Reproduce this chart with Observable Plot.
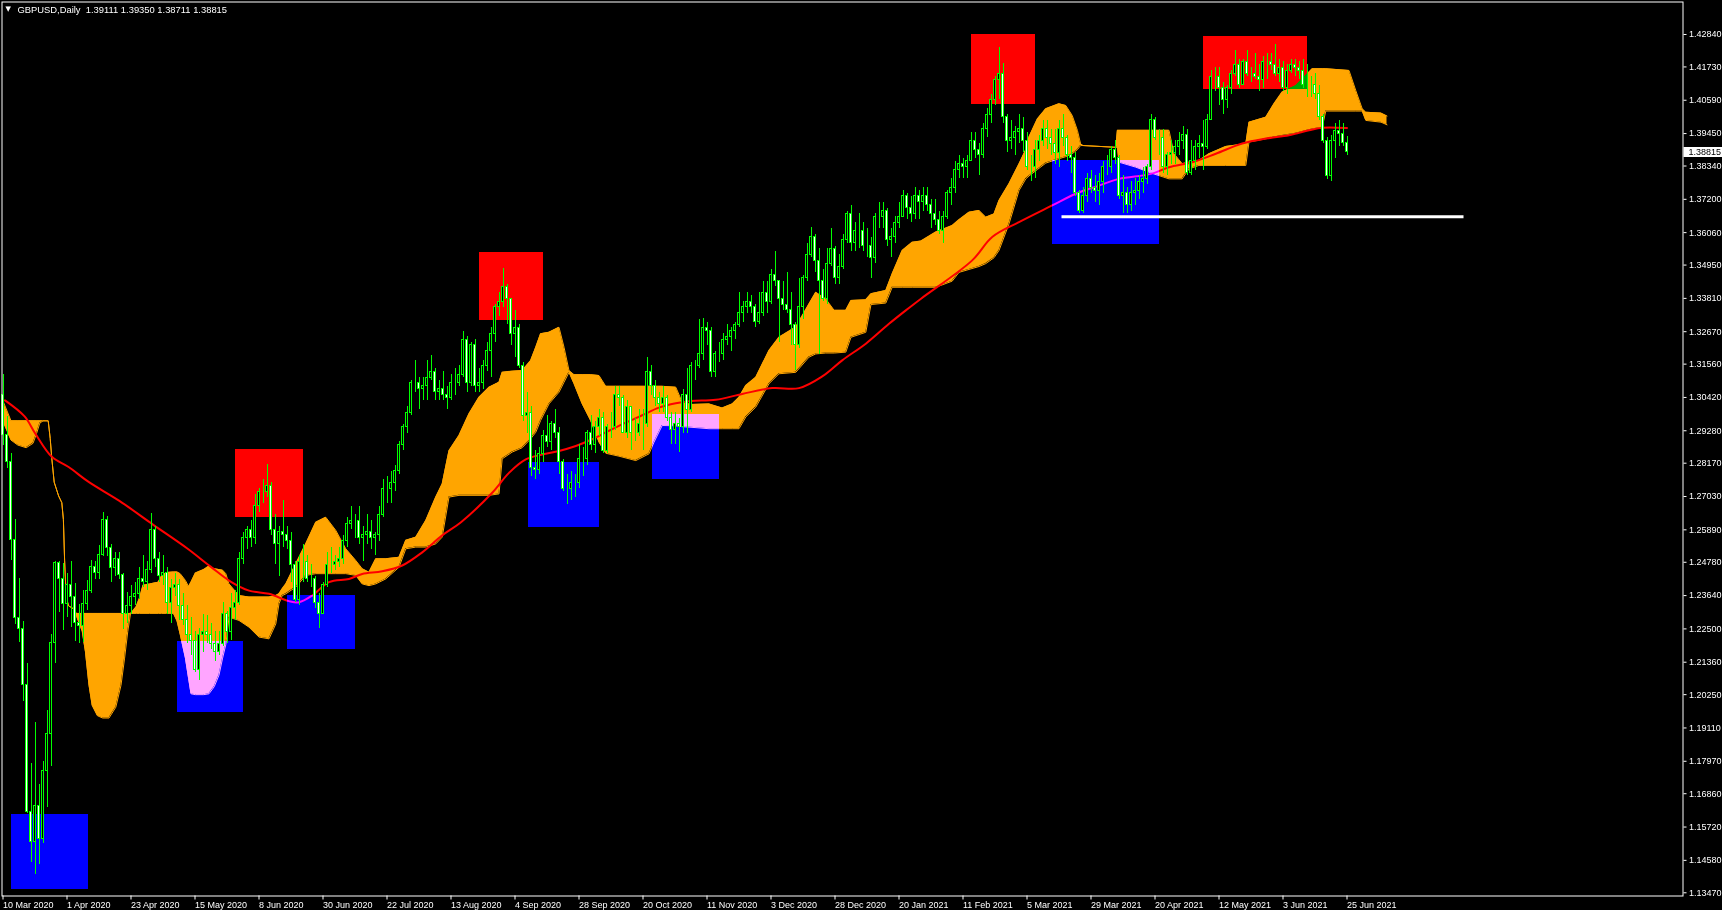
<!DOCTYPE html>
<html><head><meta charset="utf-8">
<script src="https://cdn.jsdelivr.net/npm/d3@7"></script>
<script src="https://cdn.jsdelivr.net/npm/@observablehq/plot@0.6"></script>
<style>
html,body{margin:0;padding:0;background:#000;overflow:hidden;}
#chart svg{display:block;}
</style></head><body><div id="chart"></div>
<script>
const title = "GBPUSD,Daily  1.39111 1.39350 1.38711 1.38815";
const lastPrice = 1.38815;
const firstOpen = 1.3050;
const closes = [
1.2914,1.2821,1.2555,1.2289,1.2250,1.2058,1.1624,1.1520,1.1645,1.1530,
1.1763,1.1890,1.2202,1.2474,1.2420,1.2335,1.2400,1.2360,1.2270,1.2260,
1.2335,1.2381,1.2462,1.2440,1.2503,1.2624,1.2526,1.2457,1.2490,1.2433,
1.2300,1.2330,1.2360,1.2370,1.2420,1.2410,1.2450,1.2590,1.2490,1.2430,
1.2440,1.2340,1.2390,1.2400,1.2330,1.2280,1.2230,1.2210,1.2110,1.2230,
1.2240,1.2230,1.2200,1.2170,1.2200,1.2300,1.2240,1.2320,1.2340,1.2490,
1.2560,1.2590,1.2560,1.2670,1.2720,1.2720,1.2740,1.2590,1.2540,1.2580,
1.2570,1.2550,1.2470,1.2350,1.2480,1.2480,1.2420,1.2420,1.2340,1.2300,
1.2400,1.2470,1.2470,1.2480,1.2490,1.2550,1.2610,1.2620,1.2620,1.2560,
1.2570,1.2580,1.2560,1.2570,1.2640,1.2730,1.2730,1.2750,1.2790,1.2880,
1.2940,1.2990,1.3090,1.3090,1.3070,1.3080,1.3110,1.3130,1.3060,1.3070,
1.3050,1.3040,1.3090,1.3090,1.3120,1.3240,1.3090,1.3220,1.3080,1.3090,
1.3150,1.3200,1.3260,1.3350,1.3370,1.3420,1.3380,1.3260,1.3280,1.3150,
1.2980,1.2990,1.2800,1.2795,1.2850,1.2910,1.2890,1.2950,1.2920,1.2820,
1.2730,1.2730,1.2750,1.2750,1.2830,1.2830,1.2920,1.2880,1.2940,1.2970,
1.2860,1.2940,1.2940,1.3050,1.3040,1.2920,1.3010,1.2920,1.2920,1.2950,
1.2950,1.3130,1.3080,1.3040,1.3020,1.3040,1.2970,1.2930,1.2950,1.2940,
1.3050,1.3000,1.3150,1.3150,1.3190,1.3280,1.3270,1.3130,1.3190,1.3190,
1.3240,1.3250,1.3270,1.3290,1.3330,1.3350,1.3370,1.3350,1.3300,1.3330,
1.3400,1.3370,1.3460,1.3440,1.3380,1.3360,1.3340,1.3290,1.3220,1.3350,
1.3450,1.3530,1.3590,1.3510,1.3440,1.3380,1.3500,1.3550,1.3450,1.3490,
1.3580,1.3670,1.3570,1.3610,1.3610,1.3560,1.3560,1.3520,1.3660,1.3660,
1.3680,1.3580,1.3590,1.3640,1.3660,1.3730,1.3690,1.3670,1.3730,1.3710,
1.3730,1.3700,1.3670,1.3650,1.3610,1.3660,1.3740,1.3760,1.3820,1.3840,
1.3830,1.3850,1.3920,1.3890,1.3870,1.3960,1.4010,1.4060,1.4130,1.4150,
1.4000,1.3920,1.3930,1.3950,1.3960,1.3920,1.3830,1.3830,1.3890,1.3920,
1.3960,1.3930,1.3910,1.3880,1.3960,1.3930,1.3870,1.3860,1.3740,1.3680,
1.3730,1.3790,1.3760,1.3750,1.3780,1.3830,1.3830,1.3890,1.3860,1.3730,
1.3740,1.3700,1.3740,1.3750,1.3780,1.3790,1.3830,1.3990,1.3930,1.3930,
1.3830,1.3870,1.3880,1.3900,1.3920,1.3940,1.3810,1.3850,1.3900,1.3910,
1.3900,1.3990,1.4140,1.4140,1.4100,1.4060,1.4100,1.4150,1.4180,1.4110,
1.4190,1.4150,1.4150,1.4140,1.4130,1.4190,1.4190,1.4180,1.4150,1.4170,
1.4100,1.4160,1.4180,1.4170,1.4160,1.4110,1.4110,1.4110,1.4080,1.4000,
1.3920,1.3800,1.3920,1.3955,1.3945,1.3911,1.38815];
const highs = [
1.3122,1.2977,1.2850,1.2624,1.2422,1.2277,1.2133,1.1790,1.1930,1.1716,
1.1797,1.1971,1.2231,1.2480,1.2482,1.2474,1.2440,1.2480,1.2405,1.2335,
1.2381,1.2416,1.2485,1.2480,1.2537,1.2647,1.2636,1.2540,1.2510,1.2510,
1.2440,1.2375,1.2400,1.2410,1.2460,1.2500,1.2480,1.2644,1.2600,1.2510,
1.2500,1.2460,1.2420,1.2440,1.2420,1.2370,1.2330,1.2290,1.2240,1.2250,
1.2300,1.2295,1.2270,1.2240,1.2240,1.2340,1.2310,1.2370,1.2380,1.2510,
1.2580,1.2600,1.2620,1.2710,1.2730,1.2760,1.2813,1.2750,1.2640,1.2600,
1.2690,1.2600,1.2580,1.2480,1.2500,1.2540,1.2500,1.2470,1.2430,1.2370,
1.2410,1.2510,1.2530,1.2500,1.2530,1.2570,1.2630,1.2670,1.2640,1.2670,
1.2600,1.2640,1.2620,1.2580,1.2670,1.2760,1.2770,1.2790,1.2810,1.2890,
1.2950,1.3010,1.3100,1.3170,1.3110,1.3110,1.3170,1.3185,1.3140,1.3100,
1.3130,1.3080,1.3120,1.3140,1.3150,1.3267,1.3250,1.3230,1.3240,1.3140,
1.3170,1.3230,1.3280,1.3360,1.3400,1.3482,1.3430,1.3380,1.3340,1.3290,
1.3160,1.3060,1.3010,1.2860,1.2870,1.2930,1.2980,1.2960,1.3000,1.2940,
1.2830,1.2780,1.2790,1.2780,1.2880,1.2870,1.2930,1.2980,1.2960,1.3000,
1.2990,1.2950,1.2990,1.3080,1.3080,1.3050,1.3030,1.3010,1.2970,1.3000,
1.3000,1.3177,1.3150,1.3100,1.3060,1.3080,1.3050,1.2990,1.2990,1.2970,
1.3070,1.3140,1.3160,1.3170,1.3310,1.3313,1.3300,1.3280,1.3200,1.3230,
1.3260,1.3290,1.3280,1.3300,1.3400,1.3370,1.3400,1.3390,1.3360,1.3400,
1.3440,1.3440,1.3480,1.3540,1.3440,1.3440,1.3470,1.3400,1.3300,1.3450,
1.3460,1.3570,1.3625,1.3600,1.3550,1.3480,1.3550,1.3620,1.3560,1.3530,
1.3600,1.3680,1.3700,1.3640,1.3670,1.3640,1.3620,1.3590,1.3670,1.3710,
1.3710,1.3690,1.3620,1.3660,1.3710,1.3750,1.3740,1.3730,1.3760,1.3750,
1.3760,1.3760,1.3720,1.3720,1.3680,1.3680,1.3750,1.3790,1.3850,1.3870,
1.3860,1.3870,1.3950,1.3950,1.3910,1.3980,1.4030,1.4080,1.4140,1.4241,
1.4184,1.4010,1.3990,1.3970,1.4010,1.4000,1.3950,1.3870,1.3920,1.3940,
1.3990,1.3990,1.3960,1.3960,1.3990,1.4010,1.3940,1.3900,1.3880,1.3750,
1.3760,1.3810,1.3820,1.3800,1.3810,1.3850,1.3870,1.3900,1.3920,1.3870,
1.3800,1.3760,1.3780,1.3790,1.3800,1.3830,1.3840,1.4010,1.4000,1.3960,
1.3960,1.3880,1.3920,1.3920,1.3950,1.3970,1.3960,1.3920,1.3920,1.3940,
1.3990,1.4010,1.4160,1.4170,1.4170,1.4120,1.4110,1.4160,1.4230,1.4200,
1.4200,1.4230,1.4170,1.4220,1.4180,1.4210,1.4220,1.4220,1.4249,1.4200,
1.4190,1.4180,1.4200,1.4200,1.4190,1.4200,1.4180,1.4140,1.4150,1.4110,
1.4010,1.3930,1.3940,1.3980,1.3990,1.3980,1.39350];
const lows = [
1.2879,1.2798,1.2485,1.2266,1.2202,1.2000,1.1618,1.1450,1.1409,1.1443,
1.1514,1.1640,1.1780,1.2133,1.2306,1.2243,1.2290,1.2254,1.2208,1.2200,
1.2202,1.2312,1.2370,1.2420,1.2420,1.2498,1.2498,1.2410,1.2430,1.2420,
1.2247,1.2270,1.2300,1.2330,1.2350,1.2390,1.2380,1.2440,1.2460,1.2410,
1.2400,1.2300,1.2270,1.2360,1.2280,1.2260,1.2200,1.2160,1.2100,1.2075,
1.2170,1.2200,1.2180,1.2140,1.2160,1.2190,1.2200,1.2210,1.2280,1.2330,
1.2470,1.2520,1.2530,1.2540,1.2650,1.2680,1.2700,1.2570,1.2470,1.2430,
1.2530,1.2520,1.2410,1.2340,1.2330,1.2410,1.2410,1.2390,1.2320,1.2250,
1.2300,1.2390,1.2440,1.2450,1.2460,1.2470,1.2530,1.2590,1.2560,1.2540,
1.2480,1.2540,1.2520,1.2500,1.2550,1.2630,1.2680,1.2680,1.2720,1.2780,
1.2860,1.2920,1.2980,1.3060,1.3000,1.3030,1.3030,1.3100,1.3030,1.3030,
1.3030,1.3000,1.3030,1.3050,1.3080,1.3110,1.3060,1.3080,1.3060,1.3060,
1.3070,1.3130,1.3110,1.3230,1.3320,1.3350,1.3290,1.3220,1.3180,1.3140,
1.2960,1.2920,1.2770,1.2760,1.2780,1.2820,1.2870,1.2860,1.2900,1.2780,
1.2720,1.2676,1.2690,1.2700,1.2730,1.2770,1.2810,1.2860,1.2850,1.2910,
1.2850,1.2850,1.2900,1.2930,1.3010,1.2920,1.2900,1.2860,1.2890,1.2910,
1.2860,1.2940,1.3050,1.3010,1.2990,1.2990,1.2960,1.2880,1.2880,1.2855,
1.2920,1.2920,1.2990,1.3100,1.3140,1.3170,1.3220,1.3110,1.3110,1.3160,
1.3170,1.3220,1.3200,1.3240,1.3280,1.3300,1.3330,1.3330,1.3280,1.3290,
1.3320,1.3330,1.3360,1.3420,1.3230,1.3340,1.3330,1.3220,1.3135,1.3210,
1.3310,1.3440,1.3520,1.3470,1.3190,1.3370,1.3360,1.3490,1.3430,1.3430,
1.3480,1.3570,1.3540,1.3540,1.3550,1.3540,1.3520,1.3450,1.3500,1.3620,
1.3620,1.3560,1.3520,1.3570,1.3620,1.3660,1.3650,1.3640,1.3650,1.3650,
1.3680,1.3680,1.3620,1.3630,1.3600,1.3570,1.3650,1.3700,1.3740,1.3790,
1.3790,1.3790,1.3850,1.3860,1.3800,1.3860,1.3930,1.3980,1.4040,1.4060,
1.3980,1.3880,1.3890,1.3870,1.3910,1.3880,1.3820,1.3780,1.3790,1.3850,
1.3900,1.3890,1.3870,1.3840,1.3830,1.3900,1.3850,1.3810,1.3730,1.3670,
1.3670,1.3710,1.3740,1.3710,1.3700,1.3740,1.3800,1.3810,1.3840,1.3720,
1.3670,1.3670,1.3680,1.3700,1.3720,1.3740,1.3770,1.3820,1.3920,1.3870,
1.3810,1.3800,1.3840,1.3840,1.3870,1.3890,1.3800,1.3800,1.3820,1.3860,
1.3820,1.3890,1.3990,1.4090,1.4040,1.4010,1.4030,1.4080,1.4140,1.4100,
1.4110,1.4140,1.4120,1.4130,1.4090,1.4100,1.4130,1.4160,1.4140,1.4120,
1.4090,1.4080,1.4150,1.4140,1.4130,1.4100,1.4070,1.4070,1.4060,1.3990,
1.3910,1.3787,1.3780,1.3860,1.3900,1.3900,1.38711];

// cloud boundaries (bar index, upper span, lower span)
const cloudBar = [0,2,3.7,5.8,7.5,8.4,9.2,10,11.3,11.8,12.2,12.8,13.9,14.7,15.1,15.4,15.8,16.4,17.7,18.3,18.5,19.8,20.6,21.5,22.3,23.6,24.9,26.5,28.2,29.5,30.4,31.2,31.9,32.5,33.3,34.2,35,36.7,38.8,39.7,40.9,42.6,43.5,44.3,45.6,46.4,47,48.1,50.2,51.5,52.8,54,54.9,55.7,56.5,59,61.5,64,66.5,68.2,69,69.8,70.7,73.2,75.7,78.2,80.7,83.2,85.7,88.2,89.8,91.5,93.2,95.7,99,100.7,103.2,105.7,108.2,109.8,111.5,114,116.5,119,121.5,124,124.8,127.3,129.8,131.9,133.2,134.4,136.5,139,140.25,141.5,142.75,144.8,146.9,149,150.7,154,158.2,161.5,162.75,164.8,168.2,169.8,172,176.5,179.8,182.3,184,185.7,188.2,191.5,194,198.2,201.5,203.2,205.7,207.8,210.7,212,215.7,217,220.7,222.3,224.8,227.3,229.5,233.2,237.3,239,241.5,244,245.7,247.75,249,251.5,254,255.7,256.5,258.6,260.7,264,265.7,267.3,268.6,269.4,270,278.2,278.6,279,283.2,287,291.5,292.75,294.8,296.5,299,301.5,305.7,310.7,311.5,315.7,317.75,319.8,323.2,327.3,329.8,330.7,336.5,338.2,339.8,340.7,344.5,346];
const cloudTop = [1.3030,1.2962,1.2962,1.2962,1.2962,1.2962,1.2962,1.2962,1.2962,1.2902,1.2833,1.2752,1.2705,1.2682,1.2624,1.2485,1.2358,1.2329,1.2318,1.2303,1.2303,1.2303,1.2303,1.2303,1.2303,1.2303,1.2303,1.2303,1.2303,1.2303,1.2303,1.2303,1.2303,1.2312,1.2326,1.2358,1.2399,1.2404,1.2410,1.2433,1.2443,1.2445,1.2445,1.2439,1.2416,1.2395,1.2410,1.2441,1.2453,1.2465,1.2456,1.2453,1.2451,1.2439,1.2404,1.2364,1.2359,1.2359,1.2359,1.2364,1.2370,1.2387,1.2404,1.2473,1.2541,1.2615,1.2632,1.2587,1.2524,1.2484,1.2456,1.2444,1.2490,1.2490,1.2495,1.2553,1.2564,1.2621,1.2701,1.2746,1.2860,1.2912,1.2986,1.3043,1.3077,1.3094,1.3128,1.3132,1.3134,1.3168,1.3214,1.3260,1.3265,1.3282,1.3214,1.3134,1.3120,1.3120,1.3120,1.3117,1.3080,1.3080,1.3080,1.3080,1.3080,1.3080,1.3077,1.3026,1.3018,1.3020,1.3006,1.3020,1.3043,1.3083,1.3111,1.3203,1.3248,1.3283,1.3362,1.3402,1.3379,1.3340,1.3340,1.3374,1.3376,1.3397,1.3408,1.3465,1.3545,1.3573,1.3577,1.3608,1.3630,1.3650,1.3676,1.3682,1.3659,1.3670,1.3716,1.3773,1.3841,1.3890,1.3933,1.3995,1.4030,1.4047,1.4041,1.4007,1.3956,1.3910,1.3904,1.3898,1.3956,1.3956,1.3956,1.3956,1.3956,1.3876,1.3842,1.3847,1.3853,1.3876,1.3901,1.3910,1.3984,1.4001,1.4047,1.4087,1.4109,1.4167,1.4167,1.4167,1.4161,1.4092,1.4030,1.4018,1.4015,1.4005];
const cloudBottom = [1.2960,1.2896,1.2879,1.2870,1.2885,1.2919,1.2954,1.2962,1.2962,1.2902,1.2833,1.2752,1.2705,1.2682,1.2624,1.2485,1.2358,1.2329,1.2318,1.2303,1.2289,1.2242,1.2173,1.2057,1.1988,1.1953,1.1945,1.1945,1.1982,1.2057,1.2150,1.2242,1.2303,1.2303,1.2303,1.2303,1.2303,1.2303,1.2303,1.2303,1.2303,1.2303,1.2277,1.2231,1.2150,1.2080,1.2028,1.2025,1.2025,1.2028,1.2052,1.2092,1.2150,1.2196,1.2290,1.2279,1.2256,1.2222,1.2216,1.2267,1.2336,1.2364,1.2370,1.2393,1.2433,1.2439,1.2439,1.2439,1.2439,1.2433,1.2404,1.2398,1.2404,1.2421,1.2461,1.2524,1.2530,1.2530,1.2541,1.2564,1.2701,1.2707,1.2707,1.2707,1.2707,1.2712,1.2832,1.2855,1.2870,1.2900,1.2923,1.2963,1.3020,1.3060,1.3094,1.3128,1.3089,1.3020,1.2963,1.2889,1.2851,1.2841,1.2826,1.2849,1.2889,1.2946,1.2945,1.2942,1.2940,1.2935,1.2935,1.2935,1.2935,1.2975,1.3009,1.3089,1.3123,1.3128,1.3180,1.3191,1.3194,1.3194,1.3197,1.3248,1.3265,1.3360,1.3365,1.3419,1.3419,1.3419,1.3419,1.3419,1.3440,1.3470,1.3480,1.3490,1.3500,1.3520,1.3545,1.3636,1.3750,1.3790,1.3800,1.3822,1.3844,1.3859,1.3866,1.3876,1.3890,1.3904,1.3904,1.3898,1.3898,1.3847,1.3830,1.3810,1.3790,1.3790,1.3790,1.3824,1.3836,1.3836,1.3836,1.3836,1.3916,1.3927,1.3933,1.3938,1.3946,1.3961,1.3967,1.4022,1.4022,1.4022,1.4022,1.3990,1.3984,1.3975];

// red moving average (bar index, value)
const maBar = [0.5,5.4,8,12.2,16.4,21.5,29.1,37.5,46,51.9,57,61.5,66.5,71.5,74,77.3,81.5,86.5,89.8,94.8,99.8,104.8,109.8,114.5,122.3,126.5,130.7,134.8,139,143.2,147.3,151.5,155.7,159.8,164,168.2,172,178.2,184.8,192.3,199,204.8,209.8,215.7,221.5,225.7,229.5,242.3,247.3,254,262.3,268.2,274,279,287,291.5,297.3,303.2,309.8,315.7,321.5,326.5,329.8,336];
const maVal = [1.3032,1.2977,1.2920,1.2839,1.2804,1.2752,1.2688,1.2607,1.2526,1.2463,1.2411,1.2381,1.2370,1.2345,1.2341,1.2364,1.2410,1.2421,1.2438,1.2447,1.2467,1.2512,1.2570,1.2615,1.2716,1.2784,1.2830,1.2847,1.2859,1.2876,1.2899,1.2928,1.2956,1.2981,1.3007,1.3022,1.3030,1.3034,1.3054,1.3074,1.3074,1.3114,1.3169,1.3226,1.3294,1.3340,1.3380,1.3511,1.3591,1.3642,1.3699,1.3739,1.3767,1.3790,1.3807,1.3830,1.3847,1.3876,1.3911,1.3928,1.3939,1.3956,1.3965,1.3964];

// rectangles
const rectX1 = [2, 43.5, 58, 71, 119, 131.25, 162.25, 242, 262.25, 300];
const rectX2 = [21.25, 60, 75, 88, 135, 149, 179, 258, 289, 326];
const rectTop = [1.1615, 1.2207, 1.2864, 1.2364, 1.3538, 1.2820, 1.2984, 1.4284, 1.3853, 1.4277];
const rectBottom = [1.1358, 1.1964, 1.2631, 1.2180, 1.3305, 1.2597, 1.2761, 1.4045, 1.3565, 1.4096];
const rectColor = ["#0000ff","#0000ff","#ff0000","#0000ff","#ff0000","#0000ff","#0000ff","#ff0000","#0000ff","#ff0000"];

// horizontal level
const levelPrice = 1.3660;
const levelFrom = 264.75;
const levelTo = 365.25;

// axes
const xTickBars = [0,16,32,48,64,80,96,112,128,144,160,176,192,208,224,240,256,272,288,304,320,336];
const xTickLabels = ["10 Mar 2020","1 Apr 2020","23 Apr 2020","15 May 2020","8 Jun 2020","30 Jun 2020","22 Jul 2020","13 Aug 2020","4 Sep 2020","28 Sep 2020","20 Oct 2020","11 Nov 2020","3 Dec 2020","28 Dec 2020","20 Jan 2021","11 Feb 2021","5 Mar 2021","29 Mar 2021","20 Apr 2021","12 May 2021","3 Jun 2021","25 Jun 2021"];
const yTicks = [1.13470,1.14580,1.15720,1.16860,1.17970,1.19110,1.20250,1.21360,1.22500,1.23640,1.24780,1.25890,1.27030,1.28170,1.29280,1.30420,1.31560,1.32670,1.33810,1.34950,1.36060,1.37200,1.38340,1.39450,1.40590,1.41730,1.42840];

const bars = closes.map((c, i) => ({i, o: i === 0 ? firstOpen : closes[i - 1], h: highs[i], l: lows[i], c}));
const cloud = cloudBar.map((b, k) => ({bar: b, top: cloudTop[k], bot: cloudBottom[k]}));
const ma = maBar.map((b, k) => ({bar: b, v: maVal[k]}));
const rects = rectX1.map((x1, k) => ({x1, x2: rectX2[k], y1: rectBottom[k], y2: rectTop[k], color: rectColor[k]}));
const labelMap = new Map(xTickBars.map((b, k) => [b, xTickLabels[k]]));

const FONT = "'Liberation Sans', Arial, sans-serif";
const LIME = "#00ff00", ORANGE = "#ffa500";

const chart = Plot.plot({
  width: 1722, height: 910,
  marginLeft: 1.5, marginRight: 39.5, marginTop: 1.5, marginBottom: 14.5,
  style: {background: "#000", color: "#fff", fontFamily: FONT, fontSize: "9px"},
  x: {domain: [0, 420], range: [2.5, 1682.5]},
  y: {domain: [1.13360, 1.43952]},
  marks: [
    Plot.frame({fill: "#000"}),
    Plot.areaY(cloud, {x: "bar", y1: "top", y2: "bot", fill: ORANGE}),
    Plot.line(cloud, {x: "bar", y: "top", stroke: ORANGE, strokeWidth: 1}),
    Plot.line(cloud, {x: "bar", y: "bot", stroke: ORANGE, strokeWidth: 1}),
    Plot.line(ma, {x: "bar", y: "v", stroke: "#ff0000", strokeWidth: 2, curve: "catmull-rom"}),
    Plot.rect(rects, {x1: "x1", x2: "x2", y1: "y1", y2: "y2", fill: "color", shapeRendering: "crispEdges"}),
    Plot.ruleX(bars, {x: "i", y1: "l", y2: "h", stroke: LIME, strokeWidth: 1, shapeRendering: "crispEdges"}),
    Plot.rect(bars, {x1: d => d.i - 0.25, x2: d => d.i + 0.25, y1: "o", y2: "c",
      fill: d => d.c < d.o ? "#ffffff" : "#000000", stroke: LIME, strokeWidth: 1, shapeRendering: "crispEdges"}),
    Plot.ruleY([levelPrice], {x1: levelFrom, x2: levelTo, stroke: "#ffffff", strokeWidth: 3}),
    Plot.frame({stroke: "#ffffff", strokeWidth: 1}),
    Plot.axisY(yTicks, {anchor: "right", tickFormat: d => d.toFixed(5), tickSize: 3, tickPadding: 3, fontSize: 9, fill: "#fff", stroke: "#fff", label: null}),
    Plot.axisX(xTickBars, {anchor: "bottom", tickFormat: d => labelMap.get(d), tickSize: 4, tickPadding: 2, textAnchor: "start", fontSize: 9, fill: "#fff", stroke: "#fff", label: null}),
    Plot.text(["\u25BC"], {frameAnchor: "top-left", dx: 3.5, dy: 4.5, lineAnchor: "top", textAnchor: "start", fill: "#fff", fontSize: 7, fontFamily: "DejaVu Sans"}),
    Plot.text([title], {frameAnchor: "top-left", dx: 15.5, dy: 4.5, lineAnchor: "top", textAnchor: "start", fill: "#fff", fontSize: 9.4})
  ]
});

document.getElementById("chart").appendChild(chart);
const svg = d3.select(chart);
// box fills combine with the cloud and average beneath them by colour difference
svg.selectAll("rect").filter(function () {
  const f = (this.getAttribute("fill") || "").toLowerCase();
  return f === "#0000ff" || f === "#ff0000";
}).style("mix-blend-mode", "difference");
// current price label on the right axis
const yPos = chart.scale("y").apply(lastPrice);
const g = svg.append("g").attr("text-anchor", "start");
g.append("rect").attr("x", 1683.5).attr("y", Math.round(yPos) - 5).attr("width", 38.5).attr("height", 10).attr("fill", "#fff");
g.append("text").attr("x", 1688.5).attr("y", yPos).attr("dy", "0.34em").attr("fill", "#000").attr("text-anchor", "start")
  .style("font-family", FONT).style("font-size", "9px").text(lastPrice.toFixed(5));
</script>
</body></html>
